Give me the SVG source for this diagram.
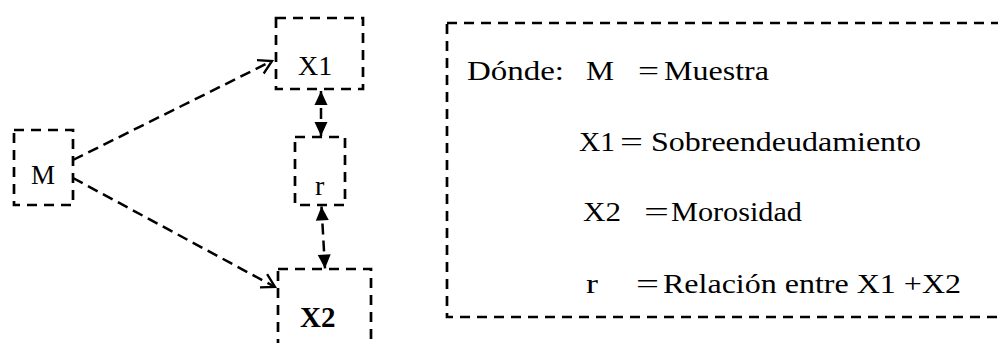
<svg xmlns="http://www.w3.org/2000/svg" width="998" height="343" viewBox="0 0 998 343">
<style>
.box{fill:none;stroke:#000;stroke-width:2.7;stroke-dasharray:10 7}
.conn{fill:none;stroke:#000;stroke-width:2.5;stroke-dasharray:11 6}
.t{font-family:"Liberation Serif","Times New Roman",serif;fill:#000}
.lg{font-family:"Liberation Serif","Times New Roman",serif;font-size:27px;fill:#000}
</style>
<defs>
<marker id="open" markerUnits="userSpaceOnUse" viewBox="0 0 16 16" markerWidth="16" markerHeight="16" refX="13" refY="7.5" orient="auto" overflow="visible">
<path d="M0,0 L13,7.5 L0,15" fill="none" stroke="#000" stroke-width="2.3"/>
</marker>
<marker id="tri" markerUnits="userSpaceOnUse" viewBox="0 0 14 13" markerWidth="14" markerHeight="13" refX="14" refY="6.5" orient="auto-start-reverse" overflow="visible">
<path d="M0,0 L14,6.5 L0,13 Z" fill="#000"/>
</marker>
</defs>
<rect width="998" height="343" fill="#fff"/>
<g id="node-M">
<rect class="box" x="14" y="130" width="59" height="75"/>
<text class="t" x="31" y="183.5" font-size="27">M</text>
</g>
<g id="node-X1">
<rect class="box" x="276" y="18" width="87" height="71"/>
<text class="t" x="298" y="74.5" font-size="28">X1</text>
</g>
<g id="node-r">
<rect class="box" x="295" y="137" width="50" height="68"/>
<text class="t" x="315" y="195" font-size="28">r</text>
</g>
<g id="node-X2">
<rect class="box" x="278" y="269" width="93" height="100"/>
<text class="t" x="300" y="326.5" font-size="29" font-weight="bold">X2</text>
</g>
<g id="connectors">
<line class="conn" x1="73" y1="160" x2="272" y2="61" marker-end="url(#open)"/>
<line class="conn" x1="73" y1="178" x2="275" y2="287" marker-end="url(#open)"/>
<line class="conn" x1="321" y1="91" x2="321" y2="136" marker-start="url(#tri)" marker-end="url(#tri)"/>
<line class="conn" x1="321.5" y1="206.5" x2="325" y2="268.5" marker-start="url(#tri)" marker-end="url(#tri)"/>
</g>
<g id="legend">
<rect class="box" x="447" y="23" width="570" height="294"/>
<text class="lg" x="467" y="80" textLength="97" lengthAdjust="spacingAndGlyphs">Dónde:</text>
<text class="lg" x="586" y="80" textLength="28" lengthAdjust="spacingAndGlyphs">M</text>
<text class="lg" x="638" y="80" textLength="21" lengthAdjust="spacingAndGlyphs">=</text>
<text class="lg" x="664" y="80" textLength="105" lengthAdjust="spacingAndGlyphs">Muestra</text>
<text class="lg" x="579" y="151" textLength="36" lengthAdjust="spacingAndGlyphs">X1</text>
<text class="lg" x="620" y="151" textLength="23" lengthAdjust="spacingAndGlyphs">=</text>
<text class="lg" x="651" y="151" textLength="270" lengthAdjust="spacingAndGlyphs">Sobreendeudamiento</text>
<text class="lg" x="583" y="221" textLength="38" lengthAdjust="spacingAndGlyphs">X2</text>
<text class="lg" x="644" y="221" textLength="25" lengthAdjust="spacingAndGlyphs">=</text>
<text class="lg" x="671" y="221" textLength="131" lengthAdjust="spacingAndGlyphs">Morosidad</text>
<text class="lg" x="586" y="292.5" textLength="12" lengthAdjust="spacingAndGlyphs">r</text>
<text class="lg" x="636" y="292.5" textLength="23" lengthAdjust="spacingAndGlyphs">=</text>
<text class="lg" x="663" y="292.5" textLength="298" lengthAdjust="spacingAndGlyphs">Relación entre X1 +X2</text>
</g>
</svg>
